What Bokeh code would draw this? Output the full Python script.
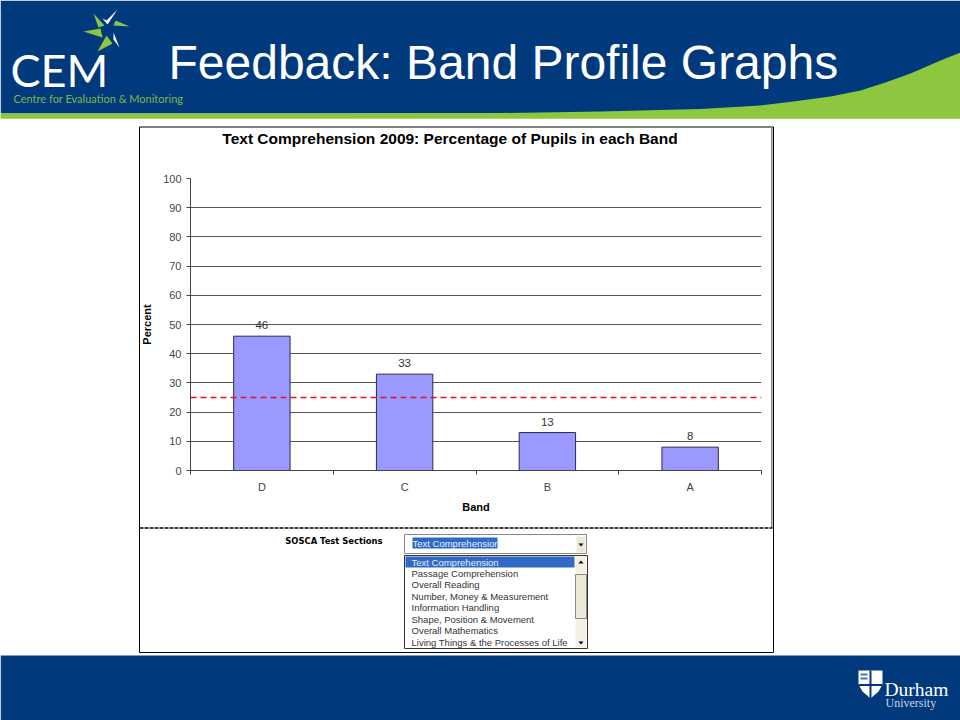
from bokeh.plotting import figure
from bokeh.layouts import column
from bokeh.embed import file_html
from bokeh.resources import INLINE
from bokeh.core.properties import value
from bokeh.models import Range1d, FixedTicker, LabelSet, ColumnDataSource, Span

bands = ["D", "C", "B", "A"]
percent = [46, 33, 13, 8]
reference_line = 25
y_ticks = [0, 10, 20, 30, 40, 50, 60, 70, 80, 90, 100]
sections = ["Text Comprehension", "Passage Comprehension", "Overall Reading",
            "Number, Money & Measurement", "Information Handling",
            "Shape, Position & Movement", "Overall Mathematics",
            "Living Things & the Processes of Life"]

NAVY = "#013a7c"; GREEN = "#8dc63f"
positions = [i + 0.5 for i in range(len(bands))]

# ---- slide background, in reference pixel coordinates
bg = figure(width=960, height=720, output_backend="svg", toolbar_location=None,
            x_range=Range1d(0, 960), y_range=Range1d(720, 0),
            x_axis_location=None, y_axis_location=None, min_border=0, frame_align=False)
bg.grid.visible = False
bg.outline_line_color = None
bg.background_fill_color = "white"; bg.border_fill_color = "white"

def box(x0, y0, x1, y1, fill=None, line=None, lw=1):
    bg.quad(left=[x0], right=[x1], top=[y0], bottom=[y1], fill_color=fill, fill_alpha=1 if fill else 0,
            line_color=line, line_alpha=1 if line else 0, line_width=lw)

def poly(pts, fill):
    bg.patch([a for a, b in pts], [b for a, b in pts], fill_color=fill, line_color=None)

def text(x, y, s, size, color="black", font="Liberation Sans", style="normal", align="left"):
    # the inverted pixel range renders baselines about 0.36 em low
    bg.text([x], [y - 0.36 * size], text=[s], text_font=value(font), text_font_size=f"{size}px", text_color=color,
            text_font_style=style, text_align=align, text_baseline="alphabetic")

box(0, 0, 960, 113, NAVY)
box(0, 113, 960, 118, GREEN)
poly([(0,114),(300,113.5),(500,112.5),(600,111),(700,108.5),(760,105),(793,101),(830,96),(860,90),
      (885,82),(910,73),(940,60),(960,52),(960,118),(0,118)], GREEN)
box(0, 655, 960, 720, NAVY)

# CEM logo
poly([(93,13),(104,25),(98,27)], GREEN); poly([(129,26),(115,20),(113,25)], GREEN)
poly([(83,31),(100,28),(102,37)], GREEN); poly([(97,51),(106,35),(112,43)], GREEN)
poly([(119,47),(113,32),(113,39)], "white")
poly([(102,18),(107,24),(117,9),(106,20)], "white")
text(10, 86, "CEM", 45, "white", "Lato")
text(13, 102, "Centre for Evaluation & Monitoring", 11, "#77b84a", "Lato")
text(168, 79, "Feedback: Band Profile Graphs", 48, "white")

# Durham logo
poly([(858,670),(882,670),(882,684),(878,691),(870,698),(862,691),(858,684)], "white")
box(869, 670, 871, 698, NAVY); box(858, 683.5, 882, 685.5, NAVY)
box(860, 673, 867, 675, "#4d76a8"); box(860, 677, 867, 679, "#4d76a8")
text(884, 696, "Durham", 19.5, "white", "Liberation Serif")
text(885, 707, "University", 12, "#c7d3e6", "Liberation Serif")

# chart panel and form
box(139, 126.5, 773, 652, "white", "black")
box(771, 126.5, 771.6, 527, None, "#888888")
bg.line([139, 772], [527.5, 527.5], line_color="black", line_width=1.5, line_dash="4 1")
text(449.5, 144, "Text Comprehension 2009: Percentage of Pupils in each Band", 15.5, "black", style="bold", align="center")
text(382, 544, "SOSCA Test Sections", 8.4, "black", "DejaVu Sans", "bold", align="right")
box(404, 534, 586, 553, "white", "#8a8a80")
box(412, 537, 497, 548, "#316ac5")
text(412, 546, "Text Comprehension", 9.5, "#e8eeff")
box(576, 536, 585, 552, "#ece9d8")
poly([(578,543),(583,543),(580.5,546)], "black")
box(404, 555, 587, 648, "white", "#333333")
box(405, 556, 574, 567, "#316ac5")
for i, s in enumerate(sections):
    text(411, 565 + i * 11.43, s, 9.5, "#e8eeff" if i == 0 else "#333333")
box(575, 556, 586, 647, "#f3f1e6")
box(575, 574, 586, 618, "#ece9d8", "#8a8a80")
poly([(578,563),(583,563),(580.5,560)], "black")
poly([(578,641),(583,641),(580.5,644)], "black")

# ---- chart, laid over the panel
p = figure(width=660, height=399, output_backend="svg", toolbar_location=None,
           x_range=Range1d(0, 4), y_range=Range1d(0, 100),
           min_border_left=70, min_border_right=19, min_border_top=51, min_border_bottom=56,
           margin=(127-720, 0, 0, 120), frame_align=False)
p.background_fill_color = None; p.border_fill_color = None; p.outline_line_color = None

src = ColumnDataSource(dict(x=positions, top=percent, label=[str(v) for v in percent]))
p.vbar(x="x", top="top", bottom=0, width=0.395, source=src, fill_color="#9999ff", line_color="#2b2b50", line_width=1)
p.add_layout(LabelSet(x="x", y="top", text="label", source=src, y_offset=7, text_align="center",
                      text_font=value("Liberation Sans"), text_font_size="11.5px", text_color="#333333"))
p.add_layout(Span(location=reference_line, dimension="width", line_color="#e8101e", line_width=1.5, line_dash="6 4"))

p.yaxis.ticker = FixedTicker(ticks=y_ticks)
p.yaxis.axis_label = "Percent"
p.yaxis.axis_label_text_font = "Liberation Sans"; p.yaxis.axis_label_text_font_style = "bold"
p.yaxis.axis_label_text_font_size = "11px"; p.yaxis.axis_label_standoff = 7
p.yaxis.axis_label_text_color = "black"
p.yaxis.major_label_text_font = "Liberation Sans"; p.yaxis.major_label_text_font_size = "11px"
p.yaxis.major_label_text_color = "#444444"
p.yaxis.major_tick_in = 0; p.yaxis.major_tick_out = 4; p.yaxis.minor_tick_line_color = None
p.yaxis.axis_line_color = "#444444"; p.yaxis.major_tick_line_color = "#444444"
p.xaxis.ticker = FixedTicker(ticks=positions, minor_ticks=[0, 1, 2, 3, 4])
p.xaxis.major_label_overrides = {pos: b for pos, b in zip(positions, bands)}
p.xaxis.major_tick_line_color = None; p.xaxis.major_tick_in = 0; p.xaxis.major_tick_out = 4
p.xaxis.minor_tick_in = 0; p.xaxis.minor_tick_out = 4; p.xaxis.minor_tick_line_color = "#444444"
p.xaxis.axis_line_color = "#444444"
p.xaxis.major_label_text_font = "Liberation Sans"; p.xaxis.major_label_text_font_size = "11px"
p.xaxis.major_label_text_color = "#444444"; p.xaxis.major_label_standoff = 6
p.xaxis.axis_label = "Band"; p.xaxis.axis_label_text_font = "Liberation Sans"
p.xaxis.axis_label_text_font_style = "bold"; p.xaxis.axis_label_text_font_size = "11px"
p.xaxis.axis_label_text_color = "black"; p.xaxis.axis_label_standoff = 5
p.xgrid.visible = False
p.ygrid.ticker = FixedTicker(ticks=y_ticks)
p.ygrid.grid_line_color = "#555555"; p.ygrid.grid_line_width = 1

open("out.html", "w").write(file_html(column(bg, p), INLINE))
